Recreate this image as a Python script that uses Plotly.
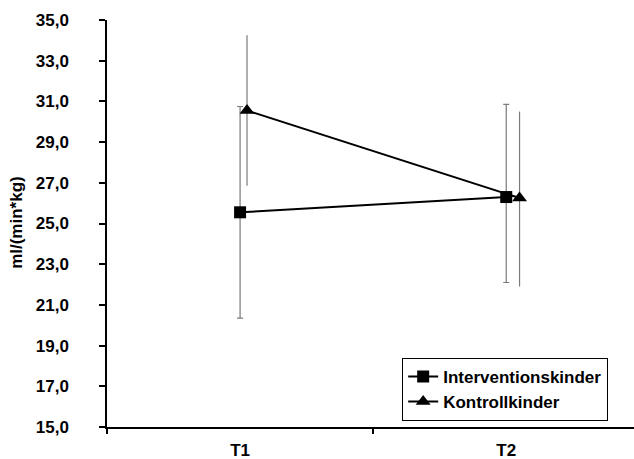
import plotly.graph_objects as go

# ---- data ----
time_points = ["T1", "T2"]
intervention_mean = [25.55, 26.3]
intervention_err_plus = [5.2, 4.55]
intervention_err_minus = [5.2, 4.2]
control_mean = [30.55, 26.25]
control_err_plus = [3.7, 4.25]
control_err_minus = [3.7, 4.35]
control_shift = [0.026, 0.05]   # small horizontal shift of the control series
y_ticks = [15, 17, 19, 21, 23, 25, 27, 29, 31, 33, 35]

FONT = "Liberation Sans, Arial, sans-serif"
FS = 17
x_range = [-0.5, 1.48]

fig = go.Figure()

fig.add_trace(go.Scatter(
    x=time_points, y=intervention_mean, name="Interventionskinder",
    mode="lines+markers",
    line=dict(color="black", width=2),
    marker=dict(symbol="square", size=12, color="black"),
    error_y=dict(type="data", symmetric=False, array=intervention_err_plus,
                 arrayminus=intervention_err_minus, color="#7a7a7a",
                 thickness=1.2, width=3),
    xaxis="x", yaxis="y",
))

control_x = [i + s for i, s in enumerate(control_shift)]
fig.add_trace(go.Scatter(
    x=control_x, y=control_mean, name="Kontrollkinder",
    mode="lines+markers",
    line=dict(color="black", width=2),
    marker=dict(symbol="triangle-up", size=13, color="black"),
    error_y=dict(type="data", symmetric=False, array=control_err_plus,
                 arrayminus=control_err_minus, color="#7a7a7a",
                 thickness=1.2, width=0),
    xaxis="x2", yaxis="y",
))

fig.update_layout(
    width=634, height=459,
    margin=dict(l=107, r=0, t=20, b=32, autoexpand=False),
    paper_bgcolor="white", plot_bgcolor="white",
    separators=",.",
    font=dict(family=FONT, size=FS, color="black", weight="bold"),
    showlegend=True,
    legend=dict(
        x=0.951, y=0.015, xanchor="right", yanchor="bottom",
        bordercolor="black", borderwidth=1, bgcolor="white",
        font=dict(family=FONT, size=FS, color="black", weight="bold"),
        itemwidth=30, tracegroupgap=0,
    ),
    xaxis=dict(
        type="category", categoryorder="array", categoryarray=time_points,
        range=x_range, tickson="boundaries", automargin=False,
        showline=True, linecolor="black", linewidth=1.5,
        ticks="outside", ticklen=5, tickcolor="black", tickwidth=1.5,
        ticklabelstandoff=7,
        showgrid=False, zeroline=False, fixedrange=True,
    ),
    xaxis2=dict(
        overlaying="x", range=x_range, visible=False, fixedrange=True,
    ),
    yaxis=dict(
        range=[15, 35], tickvals=y_ticks, tickformat=".1f", automargin=False,
        showline=True, linecolor="black", linewidth=1.5,
        ticks="outside", ticklen=6, tickcolor="black", tickwidth=1.5,
        ticklabelstandoff=27,
        showgrid=False, zeroline=False, fixedrange=True,
    ),
    annotations=[dict(
        text="ml/(min*kg)", xref="paper", yref="paper",
        x=-0.1708, y=0.504, xanchor="center", yanchor="middle",
        textangle=-90, showarrow=False,
        font=dict(family=FONT, size=FS, color="black", weight="bold"),
    )],
)

fig.write_html("out.html", config={"displayModeBar": False},
               post_script="document.body.style.margin='0';")
